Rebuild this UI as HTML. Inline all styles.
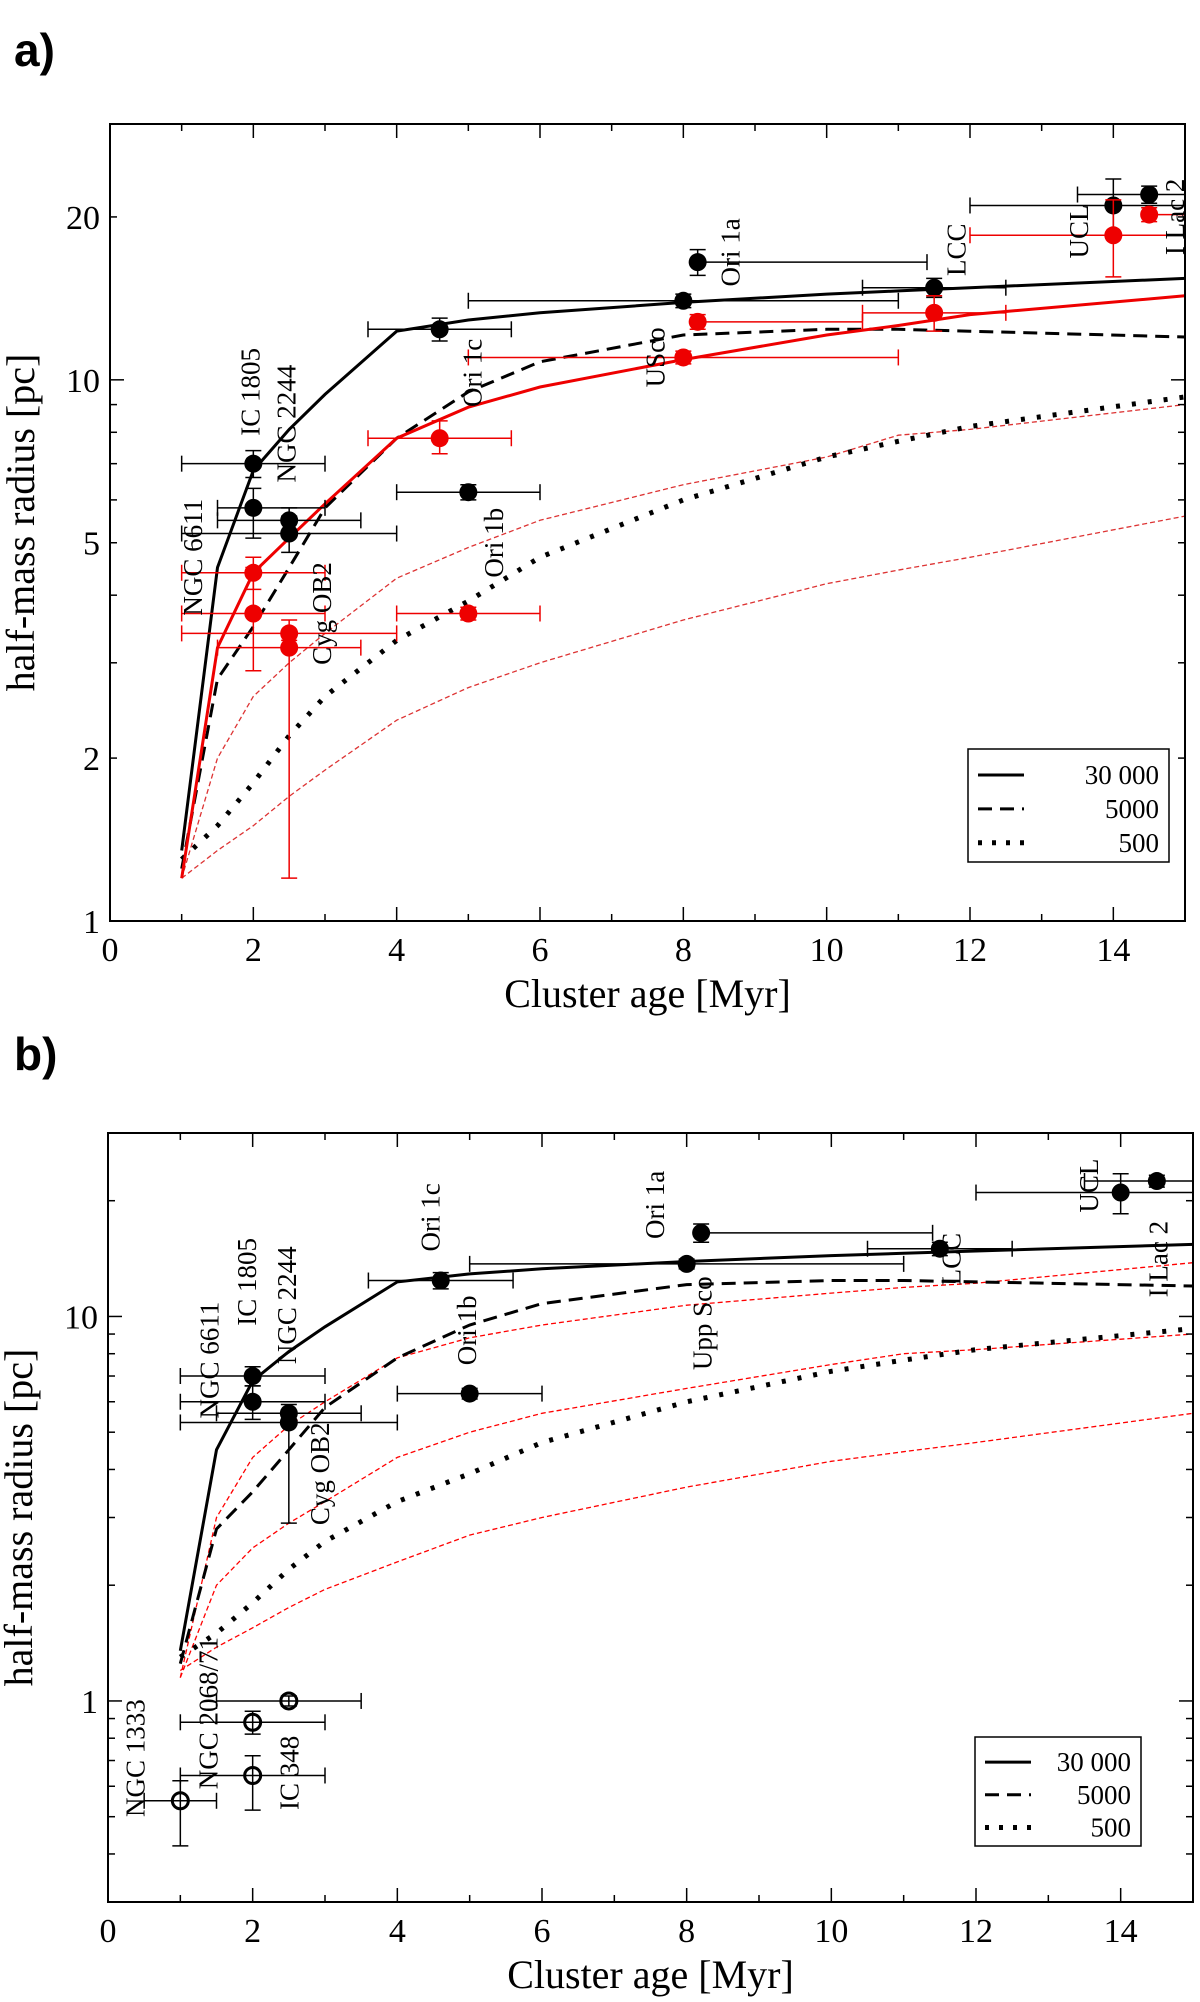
<!DOCTYPE html>
<html><head><meta charset="utf-8">
<style>
html,body{margin:0;padding:0;background:#fff;}
svg{display:block;font-family:"Liberation Serif",serif;}
.pl{font-family:"Liberation Sans",sans-serif;font-weight:bold;font-size:46px;}
</style></head>
<body>
<svg id="fig" width="1200" height="2002" viewBox="0 0 1200 2002">
<text class="pl" x="14" y="66">a)</text>
<text class="pl" x="14" y="1070">b)</text>
<g id="pa"></g>
<g id="pb"></g>
</svg>
<script>
const curveX = [1, 1.5, 2, 2.5, 3, 4, 5, 6, 8, 10, 11, 12, 15];
const solid30000 = [1.35, 4.5, 6.8, 8.1, 9.4, 12.3, 12.9, 13.3, 13.9, 14.4, 14.6, 14.8, 15.4];
const dashed5000 = [1.25, 2.8, 3.5, 4.5, 5.8, 7.8, 9.5, 10.8, 12.1, 12.4, 12.4, 12.3, 12.0];
const dotted500 = [1.3, 1.5, 1.8, 2.2, 2.6, 3.3, 3.9, 4.7, 6.0, 7.2, 7.7, 8.2, 9.3];
const redSolidA = [1.2, 3.2, 4.4, 5.1, 5.9, 7.8, 8.9, 9.7, 10.9, 12.1, 12.6, 13.2, 14.3];
const redUpperA = [1.2, 2.0, 2.6, 3.0, 3.4, 4.3, 4.9, 5.5, 6.4, 7.2, 7.9, 8.1, 9.0];
const redLowerA = [1.2, 1.35, 1.5, 1.7, 1.9, 2.35, 2.7, 3.0, 3.6, 4.2, 4.45, 4.7, 5.6];
const redTopB = [1.15, 3.0, 4.3, 5.2, 6.0, 7.8, 8.8, 9.5, 10.7, 11.5, 11.9, 12.2, 13.8];
const redMidB = [1.15, 2.0, 2.5, 2.9, 3.3, 4.3, 5.0, 5.6, 6.5, 7.5, 8.0, 8.2, 9.0];
const redLowB = [1.2, 1.38, 1.55, 1.75, 1.95, 2.3, 2.7, 3.0, 3.6, 4.2, 4.45, 4.7, 5.6];

const blackA = [[2,7.0,1,3,6.6,7.4],[2,5.8,1.5,3,5.1,6.3],[2.5,5.5,1.5,3.5,5.2,5.8],[2.5,5.2,1,4,4.8,5.6],[4.6,12.4,3.6,5.6,11.8,13],[5,6.2,4,6,6,6.4],[8,14,5,11,13.6,14.4],[8.2,16.5,8.2,11.4,15.6,17.4],[11.5,14.8,10.5,12.5,14.2,15.4],[14,21,12,15,18.5,23.5],[14.5,22,13.5,15,21.2,22.8]];
const redA = [[2,4.4,1,3,4.1,4.7],[2,3.7,1,3,2.9,4.5],[2.5,3.4,1,4,3.2,3.6],[2.5,3.2,1.5,3.5,1.2,3.3],[4.6,7.8,3.6,5.6,7.3,8.4],[5,3.7,4,6,3.6,3.8],[8,11,5,11,10.7,11.3],[8.2,12.8,8.2,10.5,12.4,13.2],[11.5,13.3,10.5,12.5,12.3,14.3],[14,18.5,12,15,15.5,21.5],[14.5,20.2,14.5,15,19.6,20.8]];
const namesA = ["NGC 6611","IC 1805","NGC 2244","Cyg OB2","Ori 1c","Ori 1b","USco","Ori 1a","LCC","UCL","I Lac 2"];
const nameXA = [1.2,2.0,2.5,3.0,5.1,5.4,7.65,8.7,11.85,13.56,14.9];
const nameYA = [4.7,9.5,8.3,3.7,10.3,5.0,11,17.2,17.4,18.8,20];

const blackB = [[2,7.0,1,3,6.6,7.4],[2,6.0,1,3,5.4,6.6],[2.5,5.6,1.5,3.5,5.3,5.9],[2.5,5.3,1,4,2.9,5.7],[4.6,12.4,3.6,5.6,11.8,13],[5,6.3,4,6,6.1,6.5],[8,13.7,5,11,13.3,14.1],[8.2,16.5,8.2,11.4,15.6,17.4],[11.5,15,10.5,12.5,14.4,15.6],[14,21,12,15,18.5,23.5],[14.5,22.5,13.5,15,21.7,23.3]];
const openB = [[1,0.55,0.5,1.5,0.42,0.62],[2,0.88,1,3,0.82,0.94],[2,0.64,1,3,0.52,0.72],[2.5,1.0,1.5,3.5,0.97,1.03]];
const namesB = ["NGC 6611","IC 1805","NGC 2244","Cyg OB2","Ori 1c","Ori 1b","Ori 1a","Upp Sco","LCC","UCL","I Lac 2","NGC 1333","NGC 2068/71","IC 348"];
const nameXB = [1.44,1.96,2.51,2.97,4.5,5.0,7.6,8.26,11.7,13.6,14.56,0.42,1.43,2.55];
const nameYB = [7.7,12.3,10.7,3.9,18.1,9.2,19.5,9.6,14.1,21.9,14.1,0.71,0.93,0.65];

const xTicks = [0,2,4,6,8,10,12,14];
const yTicksA = [1,2,5,10,20];
const yTicksB = [1,10];
const legendLabels = ["30 000","5000","500"];

const NS="http://www.w3.org/2000/svg";
function mk(parent,tag,attrs){const e=document.createElementNS(NS,tag);for(const k in attrs)e.setAttribute(k,attrs[k]);parent.appendChild(e);return e;}

function panel(g,cfg){
  const {L,R,T,B,ymin,ymax}=cfg;
  const sx=v=>L+(v/15)*(R-L);
  const ly0=Math.log10(ymin),ly1=Math.log10(ymax);
  const sy=v=>B-(Math.log10(v)-ly0)/(ly1-ly0)*(B-T);
  const path=(xs,ys)=>xs.map((x,i)=>(i?'L':'M')+sx(x).toFixed(1)+' '+sy(ys[i]).toFixed(1)).join(' ');
  cfg.curves.forEach(c=>{
    const p=mk(g,'path',{d:path(curveX,c.ys),fill:'none',stroke:c.col,'stroke-width':c.w,'stroke-dasharray':c.dash||'none'});
    
    
  });
  cfg.points.forEach(s=>{
    s.data.forEach(d=>{
      const pg=mk(g,'g',{});
      
      
      const cx=sx(d[0]),cy=sy(d[1]);
      mk(pg,'line',{x1:sx(d[2]),x2:sx(d[3]),y1:cy,y2:cy,stroke:s.col,'stroke-width':1.5});
      mk(pg,'line',{x1:cx,x2:cx,y1:sy(d[4]),y2:sy(d[5]),stroke:s.col,'stroke-width':1.5});
      [d[2],d[3]].forEach(v=>mk(pg,'line',{x1:sx(v),x2:sx(v),y1:cy-8,y2:cy+8,stroke:s.col,'stroke-width':1.5}));
      [d[4],d[5]].forEach(v=>mk(pg,'line',{x1:cx-8,x2:cx+8,y1:sy(v),y2:sy(v),stroke:s.col,'stroke-width':1.5}));
      if(s.open) mk(pg,'circle',{cx,cy,r:8,fill:'none',stroke:s.col,'stroke-width':3});
      else mk(pg,'circle',{cx,cy,r:9,fill:s.col});
    });
  });
  cfg.names.forEach((n,i)=>{
    const x=sx(cfg.nx[i]),y=sy(cfg.ny[i]);
    const t=mk(g,'text',{x:0,y:0,transform:`translate(${x.toFixed(1)},${y.toFixed(1)}) rotate(-90)`,'text-anchor':'middle','dominant-baseline':'middle','font-size':27});
    t.textContent=n;
    
    
  });
  const fr=mk(g,'rect',{x:L,y:T,width:R-L,height:B-T,fill:'none',stroke:'#000','stroke-width':2});
  
  
  for(let v=0;v<=15;v++){
    const x=sx(v),len=v%2===0?14:7;
    mk(g,'line',{x1:x,x2:x,y1:B,y2:B-len,stroke:'#000','stroke-width':1.5});
    mk(g,'line',{x1:x,x2:x,y1:T,y2:T+len,stroke:'#000','stroke-width':1.5});
  }
  xTicks.forEach(v=>{
    const t=mk(g,'text',{x:sx(v),y:B+40,'text-anchor':'middle','font-size':34});
    t.textContent=v;
    
    
  });
  for(let dec=Math.floor(ly0);dec<Math.ceil(ly1);dec++){
    for(let m=1;m<10;m++){
      const v=m*Math.pow(10,dec);
      if(v<ymin-1e-9||v>ymax+1e-9)continue;
      const y=sy(v),len=m===1?14:7;
      mk(g,'line',{x1:L,x2:L+len,y1:y,y2:y,stroke:'#000','stroke-width':1.5});
      mk(g,'line',{x1:R,x2:R-len,y1:y,y2:y,stroke:'#000','stroke-width':1.5});
    }
  }
  cfg.yTicks.forEach(v=>{
    const t=mk(g,'text',{x:L-10,y:sy(v)+12,'text-anchor':'end','font-size':34});
    t.textContent=v;
    
    
  });
  const xt=mk(g,'text',{x:(L+R)/2,y:B+86,'text-anchor':'middle','font-size':40});
  xt.textContent='Cluster age [Myr]';
  
  
  const yt=mk(g,'text',{x:0,y:0,transform:`translate(${L-76},${(T+B)/2}) rotate(-90)`,'text-anchor':'middle','font-size':40});
  yt.textContent='half-mass radius [pc]';
  
  
  const lg=cfg.leg;
  const lgG=mk(g,'g',{});
  
  
  mk(lgG,'rect',{x:lg.x,y:lg.y,width:lg.w,height:lg.h,fill:'#fff',stroke:'#000','stroke-width':1.5});
  const dashes=['none','14 8','4 10'];
  const ws=[3,3,5];
  legendLabels.forEach((s,i)=>{
    const yy=lg.y+lg.h*(0.23+0.3*i);
    const e=mk(lgG,'g',{});
    
    
    mk(e,'line',{x1:lg.x+10,x2:lg.x+56,y1:yy,y2:yy,stroke:'#000','stroke-width':ws[i],'stroke-dasharray':dashes[i]});
    const t=mk(e,'text',{x:lg.x+lg.w-10,y:yy+9,'text-anchor':'end','font-size':27});
    t.textContent=s;
  });
}

const baseCurves=[
  {ys:solid30000,col:'#000',w:3,name:'curve-30000'},
  {ys:dashed5000,col:'#000',w:3,dash:'14 8',name:'curve-5000'},
  {ys:dotted500,col:'#000',w:5,dash:'4 12',name:'curve-500'}];

panel(document.getElementById('pa'),{L:110,R:1185,T:124,B:921,ymin:1,ymax:29.7,yTicks:yTicksA,
  curves:[{ys:redUpperA,col:'#d33',w:1.3,dash:'5 3',name:'red-model-upper'},{ys:redLowerA,col:'#d33',w:1.3,dash:'5 3',name:'red-model-lower'},...baseCurves,{ys:redSolidA,col:'#e00',w:3,name:'red-model-solid'}],
  points:[{data:blackA,col:'#000',name:'black-point'},{data:redA,col:'#e00',name:'red-point'}],
  names:namesA,nx:nameXA,ny:nameYA,leg:{x:968,y:749,w:201,h:113}});

panel(document.getElementById('pb'),{L:108,R:1193,T:1133,B:1902,ymin:0.3,ymax:30,yTicks:yTicksB,
  curves:[{ys:redTopB,col:'#f00',w:1.3,dash:'5 3',name:'red-model-top'},{ys:redMidB,col:'#f00',w:1.3,dash:'5 3',name:'red-model-mid'},{ys:redLowB,col:'#f00',w:1.3,dash:'5 3',name:'red-model-low'},...baseCurves],
  points:[{data:blackB,col:'#000',name:'black-point'},{data:openB,col:'#000',open:true,name:'open-point'}],
  names:namesB,nx:nameXB,ny:nameYB,leg:{x:975,y:1737,w:166,h:109}});
</script>
</body></html>
